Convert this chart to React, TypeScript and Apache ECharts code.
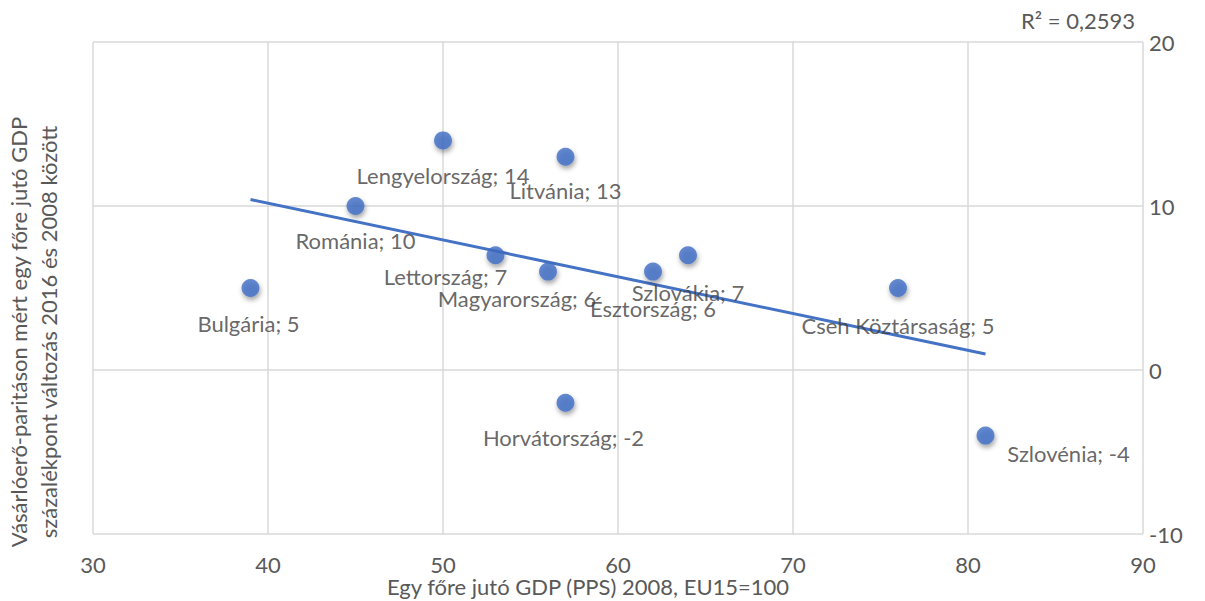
import React, { useEffect, useRef } from "react";
import * as echarts from "echarts";

const countries = ["Bulgária", "Románia", "Lengyelország", "Lettország", "Magyarország", "Litvánia", "Horvátország", "Észtország", "Szlovákia", "Cseh Köztársaság", "Szlovénia"];
const gdp2008 = [39, 45, 50, 53, 56, 57, 57, 62, 64, 76, 81];
const change = [5, 10, 14, 7, 6, 13, -2, 6, 7, 5, -4];
const xTicks = { min: 30, max: 90, interval: 10 };
const yTicks = { min: -10, max: 20, interval: 10 };
const rSquaredText = "R² = 0,2593";
const xTitle = "Egy főre jutó GDP (PPS) 2008, EU15=100";
const yTitle = ["Vásárlóerő-paritáson mért egy főre jutó GDP", "százalékpont változás 2016 és 2008 között"];

// label offsets (px) relative to marker centre
const labelOffsets: number[][] = [
  [-2, 35], [0, 34], [0, 35], [-50, 21], [-31, 27], [0, 34], [-2, 35], [0, 37], [0, 37], [0, 37], [83, 18],
];

const FONT = "Lato, 'Open Sans', sans-serif";
const FS = 22;
const BLUE = "#4472C4";

function regression(xs: number[], ys: number[]) {
  const n = xs.length;
  const mx = xs.reduce((a, b) => a + b, 0) / n;
  const my = ys.reduce((a, b) => a + b, 0) / n;
  let sxy = 0, sxx = 0;
  for (let i = 0; i < n; i++) {
    sxy += (xs[i] - mx) * (ys[i] - my);
    sxx += (xs[i] - mx) * (xs[i] - mx);
  }
  const slope = sxy / sxx;
  return { slope, intercept: my - slope * mx };
}

export default function App() {
  const ref = useRef<HTMLDivElement>(null);
  useEffect(() => {
    if (!ref.current) return;
    const chart = echarts.init(ref.current, undefined, { renderer: "svg" });
    const { slope, intercept } = regression(gdp2008, change);
    const xMin = Math.min(...gdp2008);
    const xMax = Math.max(...gdp2008);
    const trend = [
      [xMin, intercept + slope * xMin],
      [xMax, intercept + slope * xMax],
    ];
    chart.setOption({
      animation: false,
      backgroundColor: "#ffffff",
      grid: { left: 93, right: 62, top: 42, bottom: 67, containLabel: false },
      xAxis: {
        type: "value",
        min: xTicks.min,
        max: xTicks.max,
        interval: xTicks.interval,
        axisLine: { show: false },
        axisTick: { show: false },
        axisLabel: { color: "#595959", fontFamily: FONT, fontSize: FS, margin: 19 },
        splitLine: { show: true, lineStyle: { color: "#d9d9d9", width: 1.5 } },
      },
      yAxis: {
        type: "value",
        position: "right",
        min: yTicks.min,
        max: yTicks.max,
        interval: yTicks.interval,
        axisLine: { show: false },
        axisTick: { show: false },
        axisLabel: { color: "#595959", fontFamily: FONT, fontSize: FS, margin: 6 },
        splitLine: { show: true, lineStyle: { color: "#d9d9d9", width: 1.5 } },
      },
      series: [
        {
          type: "line",
          data: trend,
          showSymbol: false,
          symbol: "none",
          lineStyle: { color: BLUE, width: 3 },
          z: 3,
          silent: true,
        },
        {
          type: "scatter",
          symbol: "circle",
          symbolSize: 18,
          z: 4,
          itemStyle: {
            color: "#3E6DC4",
            shadowBlur: 5,
            shadowColor: "rgba(0,0,0,0.45)",
            shadowOffsetX: 1,
            shadowOffsetY: 3,
          },
          label: {
            show: true,
            position: "inside",
            color: "#404040",
            fontFamily: FONT,
            fontSize: FS,
            formatter: (p: any) => `${p.name}; ${p.value[1]}`,
          },
          data: countries.map((c, i) => ({
            name: c,
            value: [gdp2008[i], change[i]],
            label: { offset: labelOffsets[i] },
          })),
        },
      ],
      graphic: [
        {
          type: "text",
          x: 1135,
          y: 20,
          style: {
            text: rSquaredText,
            fill: "#595959",
            font: `${FS}px ${FONT}`,
            textAlign: "right",
            textVerticalAlign: "middle",
          },
        },
        {
          type: "text",
          x: 588,
          y: 586,
          style: {
            text: xTitle,
            fill: "#595959",
            font: `${FS}px ${FONT}`,
            textAlign: "center",
            textVerticalAlign: "middle",
          },
        },
        {
          type: "text",
          x: 33,
          y: 332,
          rotation: Math.PI / 2,
          style: {
            text: yTitle.join("\n"),
            fill: "#595959",
            font: `${FS}px ${FONT}`,
            lineHeight: 30,
            textAlign: "center",
            textVerticalAlign: "middle",
          },
        },
      ],
    });
    return () => chart.dispose();
  }, []);
  return <div ref={ref} style={{ width: 1205, height: 601, position: "absolute", left: 0, top: 0 }} />;
}
